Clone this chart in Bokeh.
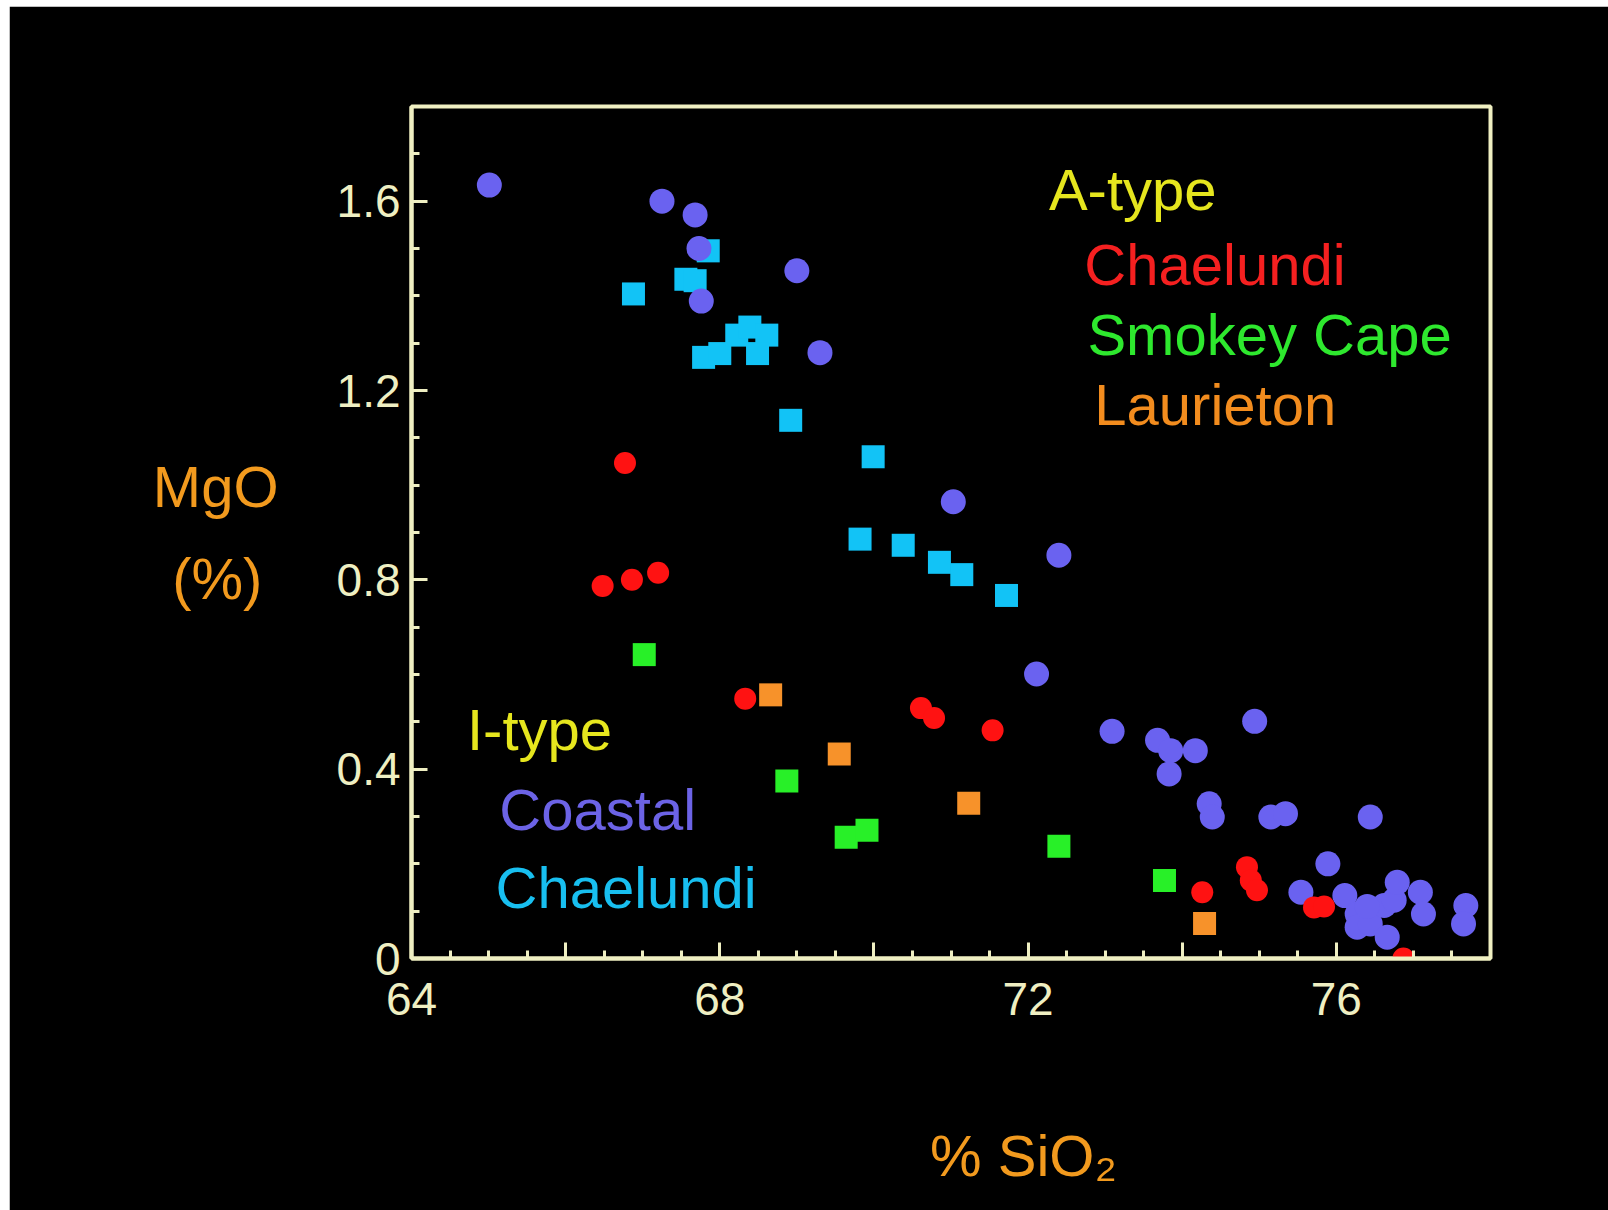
from bokeh.plotting import figure
from bokeh.models import FixedTicker, Label, Range1d
from bokeh.embed import file_html
from bokeh.resources import INLINE

# ---------------- data ----------------
# I-type Coastal (purple circles)
coastal_sio2 = [65.01, 67.25, 67.68, 67.73, 67.76, 69.00, 69.30, 71.03, 72.40, 72.11,
                73.09, 73.68, 73.85, 74.17, 73.83, 74.94, 74.35, 74.39, 75.15, 75.34,
                75.54, 76.44, 75.89, 76.11, 76.27, 76.27, 76.44, 76.66, 76.62, 76.75,
                76.79, 77.09, 77.13, 77.68, 77.65, 76.40]
coastal_mgo = [1.634, 1.600, 1.571, 1.500, 1.389, 1.453, 1.280, 0.965, 0.852, 0.601,
               0.480, 0.461, 0.439, 0.439, 0.390, 0.501, 0.327, 0.299, 0.299, 0.306,
               0.140, 0.299, 0.200, 0.133, 0.094, 0.066, 0.073, 0.045, 0.112, 0.123,
               0.161, 0.140, 0.094, 0.112, 0.073, 0.110]

# I-type Chaelundi (cyan squares)
itype_chaelundi_sio2 = [66.88, 67.56, 67.68, 67.85, 67.79, 68.00, 68.22, 68.39, 68.61, 68.49,
                        68.92, 69.99, 69.82, 70.38, 70.85, 71.14, 71.72]
itype_chaelundi_mgo = [1.404, 1.435, 1.432, 1.495, 1.270, 1.278, 1.317, 1.334, 1.317, 1.278,
                       1.137, 1.060, 0.886, 0.873, 0.837, 0.811, 0.767]

# A-type Chaelundi (red circles)
atype_chaelundi_sio2 = [66.77, 66.48, 66.86, 67.20, 68.33, 70.61, 70.78, 71.54, 74.26, 74.84,
                        74.89, 74.97, 75.71, 75.84, 76.87]
atype_chaelundi_mgo = [1.047, 0.787, 0.800, 0.815, 0.549, 0.529, 0.508, 0.482, 0.140, 0.193,
                       0.165, 0.144, 0.108, 0.110, 0.0]

# A-type Smokey Cape (green squares)
smokey_sio2 = [67.02, 68.87, 69.64, 69.91, 72.40, 73.77]
smokey_mgo = [0.642, 0.375, 0.256, 0.271, 0.237, 0.165]

# A-type Laurieton (orange squares)
laurieton_sio2 = [68.66, 69.55, 71.23, 74.29]
laurieton_mgo = [0.557, 0.432, 0.328, 0.074]

x_major_ticks = [64, 66, 68, 70, 72, 74, 76, 78]
x_major_labels = ["64", "", "68", "", "72", "", "76", ""]
x_minor_ticks = [64 + 0.5 * i for i in range(29)]
y_major_ticks = [0, 0.4, 0.8, 1.2, 1.6]
y_major_labels = ["0", "0.4", "0.8", "1.2", "1.6"]
y_minor_ticks = [round(0.1 * i, 1) for i in range(19)]

x_title = "% SiO\u2082"
y_title_lines = ["MgO", "(%)\u00a0"]

# ---------------- styling ----------------
CREAM = "#efefc2"
FONT = "Liberation Sans"
AX_ORANGE = "#f29a1e"

p = figure(width=1599, height=1204,
           x_range=Range1d(64, 78), y_range=Range1d(0, 1.8),
           output_backend="svg", toolbar_location=None,
           background_fill_color="black", border_fill_color="black",
           min_border_left=402, min_border_right=118,
           min_border_top=100, min_border_bottom=252)
p.margin = (6, 0, 0, 9)
p.grid.visible = False
p.outline_line_color = CREAM
p.outline_line_width = 4
p.outline_line_alpha = 1.0

xa = p.xaxis[0]
ya = p.yaxis[0]
xa.ticker = FixedTicker(ticks=x_major_ticks, minor_ticks=x_minor_ticks)
xa.major_label_overrides = dict(zip(x_major_ticks, x_major_labels))
ya.ticker = FixedTicker(ticks=y_major_ticks, minor_ticks=y_minor_ticks)
ya.major_label_overrides = dict(zip(y_major_ticks, y_major_labels))

for ax in (xa, ya):
    ax.axis_line_color = CREAM
    ax.axis_line_width = 4
    ax.major_tick_line_color = CREAM
    ax.major_tick_line_width = 3
    ax.minor_tick_line_color = CREAM
    ax.minor_tick_line_width = 3
    ax.major_tick_out = 0
    ax.major_tick_in = 16
    ax.minor_tick_out = 0
    ax.minor_tick_in = 8
    ax.major_label_text_color = CREAM
    ax.major_label_text_font = FONT
    ax.major_label_text_font_size = "46px"
    ax.axis_label_text_color = AX_ORANGE
    ax.axis_label_text_font = FONT
    ax.axis_label_text_font_size = "58px"
    ax.axis_label_text_font_style = "normal"
xa.major_label_standoff = 24
ya.major_label_standoff = 11

xa.axis_label = "\u00a0" * 9 + x_title
xa.axis_label_standoff = 105
ya.axis_label = "\n".join(y_title_lines)
ya.axis_label_orientation = "horizontal"
ya.axis_label_text_line_height = 1.42
ya.axis_label_text_align = "center"
ya.axis_label_standoff = 55

# ---------------- markers ----------------
p.scatter(itype_chaelundi_sio2, itype_chaelundi_mgo, marker="square", size=23,
          fill_color="#12c3f6", line_color=None)
p.scatter(coastal_sio2, coastal_mgo, marker="circle", size=25,
          fill_color="#6a62f0", line_color=None)
p.scatter(smokey_sio2, smokey_mgo, marker="square", size=23,
          fill_color="#28f028", line_color=None)
p.scatter(laurieton_sio2, laurieton_mgo, marker="square", size=23,
          fill_color="#f7922a", line_color=None)
p.scatter(atype_chaelundi_sio2, atype_chaelundi_mgo, marker="circle", size=22,
          fill_color="#ff1212", line_color=None)

# ---------------- legend-like texts inside the frame ----------------
def add_text(x, y, text, color, size="58px", align="left"):
    p.add_layout(Label(x=x, y=y, text=text, text_color=color, text_font=FONT,
                       text_font_size=size, text_align=align,
                       text_baseline="alphabetic"))

add_text(72.27, 1.624, "A-type", "#e6e61e")
add_text(72.73, 1.466, "Chaelundi", "#f52020")
add_text(72.77, 1.318, "Smokey Cape", "#2ee82e")
add_text(72.86, 1.171, "Laurieton", "#f28c1e")

add_text(64.72, 0.483, "I-type", "#e6e61e")
add_text(65.14, 0.314, "Coastal", "#6c63e6")
add_text(65.09, 0.150, "Chaelundi", "#18bff0")

open("out.html", "w").write(file_html(p, INLINE))
